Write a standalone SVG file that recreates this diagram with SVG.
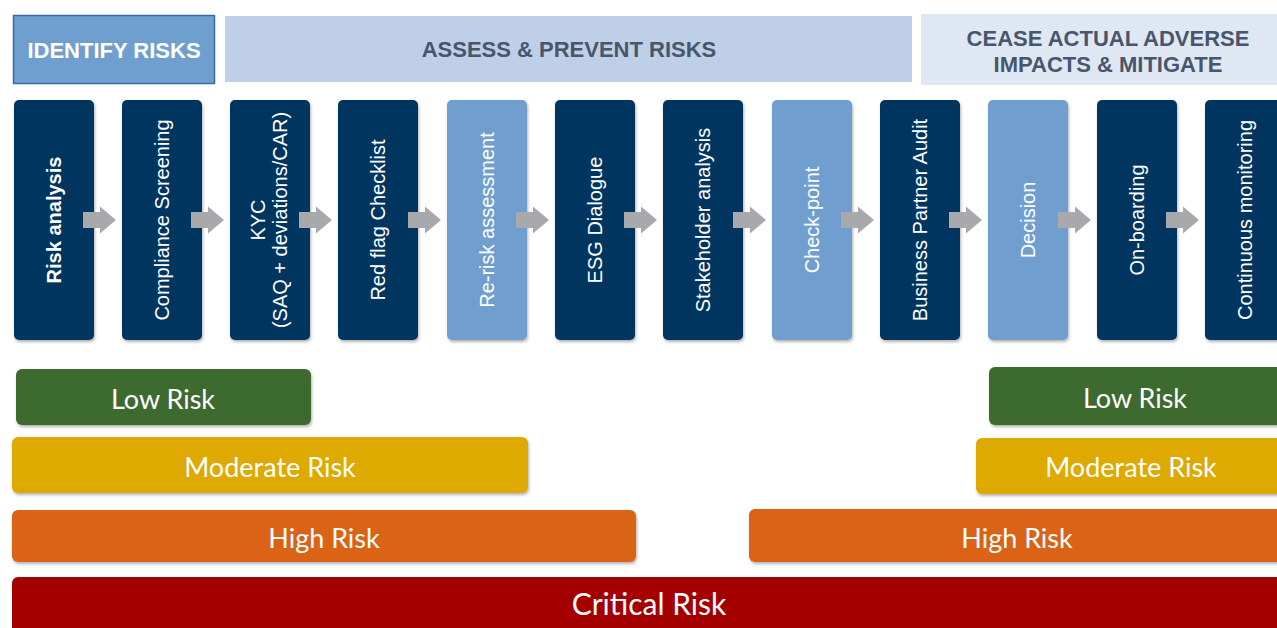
<svg xmlns="http://www.w3.org/2000/svg" width="1277" height="628" viewBox="0 0 1277 628">
<defs>
<filter id="sh" x="-10%" y="-10%" width="130%" height="130%">
<feDropShadow dx="1" dy="2" stdDeviation="1.5" flood-color="#000" flood-opacity="0.3"/>
</filter>
<path id="arr" d="M0,-8 H17 V-13.5 L33,0 L17,13.5 V8 H0 Z" fill="#a7a9ac"/>
</defs>
<style>
.hd{font-family:"Liberation Sans",Arial,sans-serif;font-weight:bold;font-size:22px;fill:#48566c;text-anchor:middle}
.card{fill:#03365f;filter:url(#sh)}
.lcard{fill:#6f9fcf;filter:url(#sh)}
.ct{font-family:"Liberation Sans",Arial,sans-serif;font-size:20px;fill:#fff;text-anchor:middle;dominant-baseline:central}
.bar{filter:url(#sh)}
.bt{font-family:Lato,"Open Sans",sans-serif;font-size:27px;fill:#fff;text-anchor:middle;dominant-baseline:central}
</style>
<rect width="1277" height="628" fill="#fff"/>

<g id="phase-identify">
<rect x="13.5" y="15.5" width="201" height="68" fill="#6f9fcf" stroke="#3c68a6" stroke-width="1.5"/>
<text class="hd" x="114" y="58" style="fill:#fff">IDENTIFY RISKS</text>
</g>
<g id="phase-assess">
<rect x="225" y="16" width="687" height="66" fill="#bfcfe7"/>
<text class="hd" x="569" y="57">ASSESS &amp; PREVENT RISKS</text>
</g>
<g id="phase-cease">
<rect x="921" y="14" width="356" height="71" fill="#dfe7f3"/>
<text class="hd" x="1108" y="46">CEASE ACTUAL ADVERSE</text>
<text class="hd" x="1108" y="72">IMPACTS &amp; MITIGATE</text>
</g>

<g id="step-risk-analysis"><rect class="card" x="14" y="100" width="80" height="240" rx="5"/>
<text class="ct" transform="translate(54,220) rotate(-90)" font-weight="bold">Risk analysis</text></g>
<g id="step-compliance"><rect class="card" x="122" y="100" width="80" height="240" rx="5"/>
<text class="ct" transform="translate(162,220) rotate(-90)">Compliance Screening</text></g>
<g id="step-kyc"><rect class="card" x="230" y="100" width="80" height="240" rx="5"/>
<text class="ct" transform="translate(258,220) rotate(-90)">KYC</text>
<text class="ct" transform="translate(280,220) rotate(-90)">(SAQ + deviations/CAR)</text></g>
<g id="step-redflag"><rect class="card" x="338" y="100" width="80" height="240" rx="5"/>
<text class="ct" transform="translate(378,220) rotate(-90)">Red flag Checklist</text></g>
<g id="step-rerisk"><rect class="lcard" x="447" y="100" width="80" height="240" rx="5"/>
<text class="ct" transform="translate(487,220) rotate(-90)">Re-risk assessment</text></g>
<g id="step-esg"><rect class="card" x="555" y="100" width="80" height="240" rx="5"/>
<text class="ct" transform="translate(595,220) rotate(-90)">ESG Dialogue</text></g>
<g id="step-stakeholder"><rect class="card" x="663" y="100" width="80" height="240" rx="5"/>
<text class="ct" transform="translate(703,220) rotate(-90)">Stakeholder analysis</text></g>
<g id="step-checkpoint"><rect class="lcard" x="772" y="100" width="80" height="240" rx="5"/>
<text class="ct" transform="translate(812,220) rotate(-90)">Check-point</text></g>
<g id="step-audit"><rect class="card" x="880" y="100" width="80" height="240" rx="5"/>
<text class="ct" transform="translate(920,220) rotate(-90)">Business Partner Audit</text></g>
<g id="step-decision"><rect class="lcard" x="988" y="100" width="80" height="240" rx="5"/>
<text class="ct" transform="translate(1028,220) rotate(-90)">Decision</text></g>
<g id="step-onboarding"><rect class="card" x="1097" y="100" width="80" height="240" rx="5"/>
<text class="ct" transform="translate(1137,220) rotate(-90)">On-boarding</text></g>
<g id="step-monitoring"><rect class="card" x="1205" y="100" width="82" height="240" rx="5"/>
<text class="ct" transform="translate(1245,220) rotate(-90)">Continuous monitoring</text></g>

<g id="connectors">
<use href="#arr" x="83" y="220"/>
<use href="#arr" x="191" y="220"/>
<use href="#arr" x="299" y="220"/>
<use href="#arr" x="408" y="220"/>
<use href="#arr" x="516" y="220"/>
<use href="#arr" x="624" y="220"/>
<use href="#arr" x="733" y="220"/>
<use href="#arr" x="841" y="220"/>
<use href="#arr" x="949" y="220"/>
<use href="#arr" x="1058" y="220"/>
<use href="#arr" x="1166" y="220"/>
</g>

<g id="low-left"><rect class="bar" x="16" y="369" width="295" height="56" rx="6" fill="#3d6b2f"/>
<text class="bt" x="163" y="398">Low Risk</text></g>
<g id="moderate-left"><rect class="bar" x="12" y="437" width="516" height="56" rx="6" fill="#dea900"/>
<text class="bt" x="270" y="466">Moderate Risk</text></g>
<g id="high-left"><rect class="bar" x="12" y="510" width="624" height="52" rx="6" fill="#da6314"/>
<text class="bt" x="324" y="537">High Risk</text></g>
<g id="low-right"><rect class="bar" x="989" y="367" width="300" height="58" rx="6" fill="#3d6b2f"/>
<text class="bt" x="1135" y="397">Low Risk</text></g>
<g id="moderate-right"><rect class="bar" x="976" y="438" width="313" height="56" rx="6" fill="#dea900"/>
<text class="bt" x="1131" y="466">Moderate Risk</text></g>
<g id="high-right"><rect class="bar" x="749" y="509" width="540" height="53" rx="6" fill="#da6314"/>
<text class="bt" x="1017" y="537">High Risk</text></g>
<g id="critical"><rect x="12" y="577" width="1277" height="60" rx="6" fill="#a50000"/>
<text class="bt" x="649" y="603" style="font-size:30px">Critical Risk</text></g>
</svg>
